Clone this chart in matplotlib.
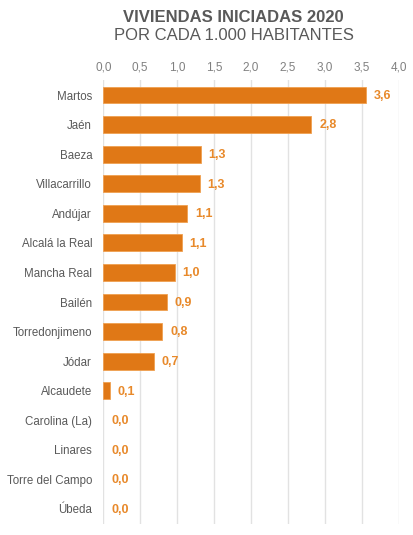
import matplotlib
matplotlib.use("Agg")
import matplotlib.pyplot as plt
import numpy as np

# data
municipios = ["Martos", "Jaén", "Baeza", "Villacarrillo", "Andújar",
              "Alcalá la Real", "Mancha Real", "Bailén", "Torredonjimeno",
              "Jódar", "Alcaudete", "Carolina (La)", "Linares",
              "Torre del Campo", "Úbeda"]
viviendas = [3.56, 2.82, 1.32, 1.31, 1.14, 1.06, 0.97, 0.86, 0.80,
             0.69, 0.09, 0.0, 0.0, 0.0, 0.0]
xticks = [0.0, 0.5, 1.0, 1.5, 2.0, 2.5, 3.0, 3.5, 4.0]

plt.rcParams['font.family'] = ['Liberation Sans', 'DejaVu Sans']

fig = plt.figure(figsize=(4.13, 5.35), dpi=100)
ax = fig.add_axes([0.250, 0.021, 0.715, 0.829])

y = np.arange(len(municipios))
widths = [0.6 if v > 0 else 0 for v in viviendas]
ax.barh(y, viviendas, height=0.57, color="#E07816", edgecolor="#F0A050",
        linewidth=widths, zorder=3)

# value labels
for yi, v in zip(y, viviendas):
    ax.text(v + 0.105, yi + 0.03, ("%.1f" % v).replace(".", ","), va="center",
            ha="left", fontsize=9, fontweight="bold", color="#E8892A")

ax.set_xlim(0, 4.0)
ax.set_ylim(len(municipios) - 0.5, -0.5)
ax.set_xticks(xticks)
ax.set_xticklabels([("%.1f" % t).replace(".", ",") for t in xticks])
ax.set_yticks(y)
ax.set_yticklabels(municipios)
ax.xaxis.tick_top()
ax.tick_params(axis="x", length=0, pad=4.5, labelsize=8.5, colors="#808080")
ax.tick_params(axis="y", length=0, pad=8, labelsize=8.3, colors="#595959")
ax.grid(axis="x", color="#E2E2E2", linewidth=1.0, zorder=0)
for s in ax.spines.values():
    s.set_visible(False)

fig.text(0.566, 0.968, "VIVIENDAS INICIADAS 2020", ha="center", va="center",
         fontsize=12, fontweight="bold", color="#595959")
fig.text(0.566, 0.934, "POR CADA 1.000 HABITANTES", ha="center",
         va="center", fontsize=12, color="#595959")

fig.savefig("out.png", dpi=100)
